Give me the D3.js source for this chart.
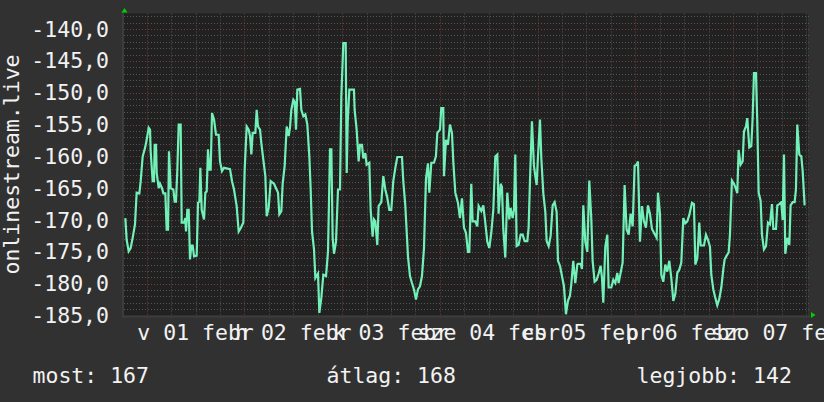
<!DOCTYPE html>
<html>
<head>
<meta charset="utf-8">
<script src="https://cdn.jsdelivr.net/npm/d3@7"></script>
<style>
  body { margin: 0; background: #313131; }
  svg text { font-family: "DejaVu Sans Mono", monospace; font-size: 21.5px; fill: #f2f2f2; }
</style>
</head>
<body>
<svg width="824" height="402"></svg>
<script>
// [hours since graph start, value]
var readings = [
  [0.33,-169.7],[0.65,-173.1],[1.15,-174.9],[1.64,-174.4],[2.13,-172.8],[2.70,-170.7],[3.11,-165.7],[3.77,-165.8],[4.10,-163.9],[4.59,-160.0],
  [5.16,-158.7],[5.57,-157.4],[6.06,-155.5],[6.39,-155.8],[6.55,-159.2],[7.04,-163.9],[7.37,-163.9],[7.53,-158.2],[7.86,-158.2],[8.03,-162.6],
  [8.52,-165.0],[8.84,-164.3],[9.34,-165.0],[9.66,-165.8],[10.15,-165.8],[10.48,-171.5],[10.81,-171.5],[11.05,-159.2],[11.46,-165.0],[12.12,-165.2],
  [12.45,-167.1],[12.77,-167.1],[13.10,-162.1],[13.43,-155.0],[13.92,-155.0],[14.17,-170.4],[14.74,-170.4],[15.07,-169.7],[15.23,-171.8],[15.56,-168.4],
  [15.89,-168.4],[16.21,-176.2],[16.54,-174.0],[16.87,-174.0],[17.20,-175.7],[17.85,-175.6],[18.18,-167.3],[18.51,-167.1],[18.75,-161.8],[19.08,-168.4],
  [19.65,-169.9],[19.98,-165.7],[20.31,-165.5],[20.63,-158.9],[20.96,-162.1],[21.29,-162.1],[21.62,-153.2],[22.11,-154.2],[22.60,-156.6],[23.25,-156.6],
  [23.58,-160.8],[24.07,-162.3],[24.56,-161.8],[26.04,-162.0],[26.53,-163.9],[27.02,-165.2],[27.67,-167.8],[28.17,-171.8],[28.66,-171.3],[29.31,-170.4],
  [29.64,-162.1],[30.13,-155.3],[30.62,-155.8],[30.95,-156.8],[31.28,-159.7],[31.60,-156.3],[32.26,-156.3],[32.59,-152.7],[32.91,-155.3],[33.41,-155.8],
  [33.73,-157.9],[34.22,-160.5],[34.72,-163.1],[35.04,-169.4],[35.53,-168.1],[36.03,-163.9],[36.84,-164.3],[37.34,-165.0],[37.83,-165.7],[38.15,-169.1],
  [38.65,-168.6],[38.97,-164.3],[39.46,-161.5],[39.96,-155.3],[40.45,-156.8],[40.77,-155.5],[41.10,-152.7],[41.59,-151.1],[41.92,-151.4],[42.25,-155.8],
  [42.57,-149.5],[43.23,-149.4],[43.56,-152.7],[44.05,-153.7],[44.54,-153.4],[45.03,-155.0],[45.52,-160.0],[45.85,-165.2],[46.18,-171.8],[46.67,-174.6],
  [47.00,-179.1],[47.65,-178.4],[47.98,-184.6],[48.47,-182.2],[48.96,-178.6],[49.62,-178.8],[50.11,-174.9],[50.60,-158.9],[50.93,-158.9],[51.25,-172.8],
  [51.58,-175.3],[52.07,-173.4],[52.56,-165.2],[53.05,-165.2],[53.38,-150.6],[53.87,-142.2],[54.45,-142.2],[54.70,-162.6],[54.95,-154.5],[55.35,-149.5],
  [56.48,-149.5],[56.65,-152.7],[57.14,-155.8],[57.63,-160.8],[57.96,-158.2],[58.45,-158.2],[58.78,-160.3],[59.27,-159.5],[59.59,-161.3],[60.25,-161.0],
  [60.58,-168.4],[61.07,-172.6],[61.40,-169.9],[61.72,-170.2],[62.21,-173.9],[62.54,-167.8],[63.20,-167.2],[63.69,-163.1],[64.18,-165.2],[64.67,-166.5],
  [65.16,-168.4],[65.65,-168.4],[66.14,-163.9],[66.64,-161.8],[67.13,-160.1],[68.27,-160.1],[68.60,-163.9],[69.09,-167.7],[69.75,-175.7],[70.24,-178.8],
  [70.73,-179.9],[71.22,-180.9],[71.71,-182.5],[72.20,-180.9],[72.69,-180.4],[73.19,-178.8],[73.68,-174.4],[74.17,-163.5],[74.66,-161.1],[74.99,-165.7],
  [75.48,-161.0],[76.13,-161.0],[76.62,-160.0],[76.95,-156.3],[77.61,-155.8],[77.93,-152.4],[78.42,-152.4],[78.59,-163.1],[79.08,-157.4],[79.57,-158.2],
  [80.06,-155.0],[80.55,-156.3],[80.88,-160.8],[81.37,-165.7],[82.03,-167.3],[82.52,-169.7],[83.01,-166.6],[83.50,-171.2],[83.99,-172.0],[84.48,-175.0],
  [84.81,-175.0],[85.30,-164.3],[85.63,-170.2],[86.28,-170.2],[86.77,-171.0],[87.10,-167.8],[87.76,-168.6],[88.25,-167.7],[88.74,-170.4],[89.23,-173.4],
  [89.72,-174.4],[90.21,-172.0],[90.71,-168.4],[91.20,-160.0],[91.69,-159.7],[92.01,-169.0],[92.51,-164.3],[92.83,-164.8],[93.16,-171.4],[93.65,-175.9],
  [94.14,-165.7],[94.63,-169.9],[94.96,-168.1],[95.45,-169.7],[95.78,-168.4],[96.11,-159.7],[96.44,-174.1],[96.93,-173.9],[97.42,-172.3],[97.91,-172.3],
  [98.40,-173.3],[99.06,-173.3],[99.38,-171.2],[99.71,-163.9],[100.20,-154.5],[100.69,-161.5],[101.02,-163.1],[101.35,-164.5],[101.68,-160.0],[102.17,-154.2],
  [102.50,-160.3],[102.99,-165.8],[103.48,-168.7],[103.81,-173.3],[104.30,-174.1],[104.79,-172.5],[105.28,-167.7],[105.77,-167.2],[106.26,-168.7],[106.59,-176.4],
  [107.08,-177.2],[107.57,-178.8],[108.06,-180.4],[108.55,-184.8],[109.04,-182.7],[109.53,-181.9],[109.86,-180.1],[110.35,-176.4],[110.84,-179.9],[111.34,-177.0],
  [111.50,-176.9],[112.16,-176.9],[112.48,-177.7],[112.81,-167.7],[113.30,-173.4],[113.79,-175.0],[114.28,-163.8],[114.78,-169.9],[115.10,-176.4],[115.59,-179.7],
  [116.09,-179.4],[116.58,-178.4],[117.07,-177.2],[117.40,-179.1],[117.72,-183.0],[118.21,-174.2],[118.71,-172.3],[119.03,-180.6],[119.69,-180.6],[120.18,-179.4],
  [120.67,-179.9],[121.16,-178.3],[121.49,-179.9],[121.98,-178.3],[122.47,-176.7],[122.96,-164.5],[123.45,-171.5],[123.95,-172.3],[124.44,-169.0],[124.93,-171.0],
  [125.42,-161.5],[125.91,-161.3],[126.24,-160.8],[126.73,-173.4],[127.22,-167.8],[127.71,-170.2],[128.20,-171.2],[128.69,-167.7],[129.18,-169.0],[129.68,-171.4],
  [130.33,-172.2],[130.82,-172.8],[131.15,-165.7],[131.64,-169.0],[131.97,-178.6],[132.46,-179.7],[132.95,-177.0],[133.44,-178.1],[133.93,-176.4],[134.42,-179.1],
  [134.92,-182.7],[135.41,-181.6],[135.90,-178.3],[136.39,-177.8],[136.88,-176.7],[137.37,-169.7],[137.86,-170.5],[138.35,-170.2],[138.85,-169.2],[139.50,-167.3],
  [139.99,-167.5],[140.32,-177.0],[140.81,-176.0],[141.30,-170.4],[141.63,-174.0],[142.45,-174.0],[142.94,-172.3],[143.43,-173.1],[143.92,-174.2],[144.25,-178.6],
  [144.74,-180.9],[145.23,-182.2],[145.72,-183.4],[146.21,-182.4],[146.71,-180.6],[147.20,-177.7],[147.52,-176.2],[148.02,-175.6],[148.51,-175.1],[148.83,-172.3],
  [149.32,-163.8],[149.82,-164.3],[150.31,-165.1],[150.63,-165.8],[150.96,-159.0],[151.45,-161.3],[151.95,-160.8],[152.27,-156.1],[152.76,-155.3],[153.09,-154.0],
  [153.58,-158.6],[154.07,-158.4],[154.40,-154.0],[154.73,-146.9],[155.22,-146.9],[155.55,-154.8],[155.88,-165.7],[156.37,-167.0],[156.69,-172.3],[157.18,-174.6],
  [157.68,-174.1],[158.17,-170.4],[158.66,-170.7],[159.15,-167.5],[159.48,-171.4],[160.13,-171.4],[160.46,-167.7],[160.95,-167.5],[161.44,-167.2],[161.77,-170.0],
  [162.10,-159.7],[162.42,-175.3],[162.92,-172.8],[163.41,-173.9],[163.73,-167.7],[164.23,-167.2],[164.72,-167.2],[165.04,-165.2],[165.37,-155.0],[165.86,-159.7],
  [166.35,-160.0],[166.68,-162.2],[167.17,-167.7]
];

var yTicks = [-140, -145, -150, -155, -160, -165, -170, -175, -180, -185];
var dayNames = ["v", "h", "k", "sze", "cs", "p", "szo"];
var monthNames = ["jan", "febr", "márc", "ápr", "máj", "jún", "júl", "aug", "szept", "okt", "nov", "dec"];
var axisTitle = "onlinestream.live";
var summaryLabels = ["most", "átlag", "legjobb"];
var summaryValues = [167, 168, 142];

var start = new Date(Date.UTC(2015, 0, 31, 18, 25, 30));
var end = new Date(+start + 7 * 864e5);

var svg = d3.select("svg");

var plot = { left: 124, right: 808, top: 13.5, bottom: 315.5 };

var x = d3.scaleUtc().domain([start, end]).range([plot.left, plot.right]);
var y = d3.scaleLinear().domain([-185, -137.55]).range([plot.bottom, plot.top]);

var hu = d3.timeFormatLocale({
  dateTime: "%Y. %B %-e., %A %X", date: "%Y. %m. %d.", time: "%H:%M:%S",
  periods: ["de.", "du."],
  days: ["vasárnap", "hétfő", "kedd", "szerda", "csütörtök", "péntek", "szombat"],
  shortDays: dayNames,
  months: ["január", "február", "március", "április", "május", "június", "július", "augusztus", "szeptember", "október", "november", "december"],
  shortMonths: monthNames
});
var fmt = hu.utcFormat("%a %d %b");

// outer frame
svg.append("rect").attr("width", 824).attr("height", 402).attr("fill", "#313131");
svg.append("rect")
  .attr("x", plot.left).attr("y", plot.top)
  .attr("width", plot.right - plot.left).attr("height", plot.bottom - plot.top)
  .attr("fill", "#212121");

var grid = svg.append("g").attr("stroke-dasharray", "1,2").attr("stroke-width", 1);

// horizontal grid
var minorY = d3.range(-185, -137);
grid.selectAll(".hy").data(minorY).enter().append("line")
  .attr("x1", plot.left).attr("x2", plot.right + 3)
  .attr("y1", function (d) { return Math.round(y(d)) + 0.5; })
  .attr("y2", function (d) { return Math.round(y(d)) + 0.5; })
  .attr("stroke", function (d) { return d % 5 === 0 ? "#7a3d3d" : "#555555"; });

// vertical grid
var minorX = d3.utcHour.every(6).range(start, end);
grid.selectAll(".vx").data(minorX).enter().append("line")
  .attr("x1", function (d) { return Math.round(x(d)) + 0.5; })
  .attr("x2", function (d) { return Math.round(x(d)) + 0.5; })
  .attr("y1", plot.top).attr("y2", plot.bottom + 3)
  .attr("stroke", function (d) { return d.getUTCHours() === 0 ? "#7a3d3d" : "#555555"; });

// axis lines
svg.append("line").attr("x1", plot.left - 1).attr("x2", plot.left - 1)
  .attr("y1", plot.top - 2).attr("y2", plot.bottom + 2)
  .attr("stroke", "#3c3c3c").attr("stroke-width", 2);
svg.append("line").attr("x1", plot.left - 2).attr("x2", plot.right + 2)
  .attr("y1", plot.bottom + 1).attr("y2", plot.bottom + 1)
  .attr("stroke", "#3c3c3c").attr("stroke-width", 2);

// arrows
svg.append("path").attr("fill", "#00d000")
  .attr("d", "M" + (plot.left - 2.5) + "," + (plot.top - 1) + "L" + (plot.left + 3.5) + "," + (plot.top - 1) + "L" + (plot.left + 0.5) + "," + (plot.top - 5.5) + "Z");
svg.append("path").attr("fill", "#00d000")
  .attr("d", "M" + (plot.right + 3) + "," + (plot.bottom - 3.5) + "L" + (plot.right + 3) + "," + (plot.bottom + 2.5) + "L" + (plot.right + 7.5) + "," + (plot.bottom - 0.5) + "Z");

// data line
var line = d3.line()
  .x(function (d) { return x(new Date(+start + d[0] * 36e5)); })
  .y(function (d) { return y(d[1]); });

svg.append("path").datum(readings)
  .attr("d", line)
  .attr("fill", "none")
  .attr("stroke", "#72f0b8")
  .attr("stroke-width", 2.2)
  .attr("stroke-linejoin", "miter");

// y labels
svg.selectAll(".yl").data(yTicks).enter().append("text")
  .attr("x", 109)
  .attr("y", function (d) { return y(d) + 7.5; })
  .attr("text-anchor", "end")
  .text(function (d) { return d3.format(".1f")(d).replace(".", ",").replace("−", "-"); });

// x labels at noon
var noons = d3.utcDay.range(start, end).map(function (d) { return new Date(+d + 12 * 36e5); })
  .filter(function (d) { return d > start && d < end; });
svg.selectAll(".xl").data(noons).enter().append("text")
  .attr("x", function (d) { return x(d); })
  .attr("y", 339.5)
  .attr("text-anchor", "middle")
  .text(function (d) { return fmt(d); });

// axis title
svg.append("text")
  .attr("transform", "translate(19," + ((plot.top + plot.bottom) / 2) + ") rotate(-90)")
  .attr("text-anchor", "middle")
  .text(axisTitle);

// summary
var summaryX = [32.5, 326.5, 636.5];
svg.selectAll(".sm").data(summaryLabels).enter().append("text")
  .attr("x", function (d, i) { return summaryX[i]; })
  .attr("y", 382.5)
  .text(function (d, i) { return d + ": " + summaryValues[i]; });
</script>
</body>
</html>
